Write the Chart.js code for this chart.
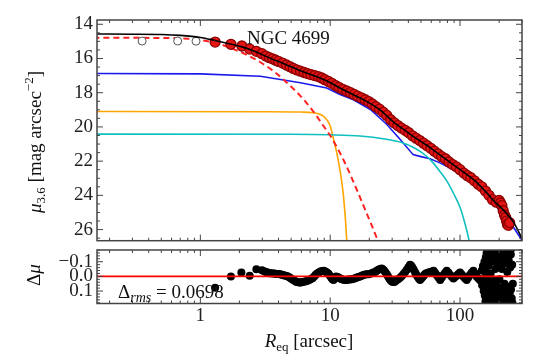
<!DOCTYPE html>
<html>
<head>
<meta charset="utf-8">
<script src="https://cdn.jsdelivr.net/npm/chart.js@4.4.1/dist/chart.umd.min.js"></script>
<style>
  html, body { margin: 0; padding: 0; background: #fff; }
  #wrap { position: relative; width: 538px; height: 362px; }
  #main { position: absolute; left: 0; top: 0; }
  #resid { position: absolute; left: 0; top: 246px; }
</style>
</head>
<body>
<div id="wrap">
  <canvas id="main" width="538" height="247"></canvas>
  <canvas id="resid" width="538" height="116"></canvas>
</div>
<script>
// ---- data (R in arcsec, mu in mag/arcsec^2) ----
const modelR  = [0.15, 0.3, 0.5, 0.7, 1.0, 1.3, 1.7, 2.1, 2.7, 3.3, 4.4, 5.9, 7.9, 9.7, 11.9, 15.1, 19.2, 24.3, 30.6, 38.9, 46.5, 55.4, 62.4, 79, 100, 126.6, 160, 181, 215, 257, 290, 330];
const modelMu = [14.57, 14.58, 14.6, 14.65, 14.77, 14.95, 15.15, 15.32, 15.62, 15.92, 16.31, 16.72, 17.07, 17.36, 17.72, 18.12, 18.52, 19.02, 19.7, 20.28, 20.7, 21.07, 21.36, 21.93, 22.5, 23.07, 23.84, 24.3, 24.85, 25.55, 26.3, 27.3];

const bulgeR  = [0.15, 0.5, 0.8, 1.0, 1.4, 1.8, 2.3, 2.9, 3.6, 4.4, 5.5, 6.5, 7.6, 8.8, 10.0, 11.3, 12.7, 14.3, 16.2, 18.5, 21.0, 24.0];
const bulgeMu = [14.79, 14.8, 14.84, 14.92, 15.15, 15.45, 15.8, 16.22, 16.7, 17.25, 17.95, 18.55, 19.2, 19.9, 20.5, 21.2, 21.95, 22.8, 23.75, 24.8, 25.8, 26.9];

const diskR  = [0.15, 1, 2.9, 5.9, 9.4, 11.9, 15.1, 20.4, 27.2, 34.5, 43.5, 49, 58.7, 70, 89, 100, 126, 160, 200, 257, 330];
const diskMu = [16.88, 16.9, 17.04, 17.42, 17.72, 18.1, 18.41, 18.98, 19.84, 20.72, 21.62, 21.72, 21.86, 22.1, 22.5, 22.68, 23.2, 23.95, 24.85, 25.85, 27.1];

const barR  = [0.15, 3, 6, 7.4, 8.2, 8.9, 9.5, 10.0, 10.6, 11.3, 12.0, 12.6, 13.1, 13.5];
const barMu = [19.1, 19.11, 19.13, 19.17, 19.25, 19.38, 19.62, 19.95, 20.7, 21.6, 22.7, 23.9, 25.4, 27.0];

const lensR  = [0.15, 5, 10, 17, 27, 35, 45, 55, 62, 70, 79, 90, 100, 110, 117.6, 122];
const lensMu = [20.42, 20.43, 20.46, 20.53, 20.72, 20.9, 21.25, 21.7, 22.1, 22.6, 23.15, 23.95, 24.7, 25.75, 26.65, 27.2];

const maskedR  = [0.356, 0.669, 0.926];
const maskedMu = [14.98, 14.98, 14.99];

const obsR  = [1.30, 1.72, 2.09, 2.40, 2.70, 2.98, 3.2, 3.4, 3.6, 3.8, 4.0, 4.3, 4.6, 4.9, 5.2, 5.5, 5.9, 6.3, 6.7, 7.1, 7.6, 8.1, 8.6, 9.1, 9.7, 10.3, 11.0, 11.7, 12.5, 13.4, 14.3, 15.3, 16.3, 17.4, 18.6, 19.8, 21.1, 22.5, 24.0, 25.6, 27.3, 29.2, 31.1, 33.2, 35.4, 37.8, 40.3, 43.0, 45.9, 49.0, 52.3, 55.8, 59.5, 63.5, 67.8, 72.3, 77.1, 82.3, 87.8, 93.7, 100, 107, 114, 121, 129, 138, 147, 157, 167, 178, 190, 200, 205, 210, 215, 220, 225, 228, 232, 236, 241];
const obsMu = [15.04, 15.17, 15.27, 15.45, 15.58, 15.72, 15.86, 15.95, 16.02, 16.1, 16.17, 16.27, 16.38, 16.48, 16.58, 16.66, 16.74, 16.82, 16.88, 16.94, 17.0, 17.06, 17.14, 17.24, 17.34, 17.45, 17.58, 17.69, 17.8, 17.9, 17.99, 18.1, 18.2, 18.3, 18.41, 18.52, 18.66, 18.82, 18.96, 19.14, 19.33, 19.58, 19.76, 19.92, 20.07, 20.2, 20.34, 20.52, 20.66, 20.8, 20.95, 21.1, 21.25, 21.42, 21.58, 21.74, 21.86, 22.05, 22.2, 22.33, 22.5, 22.7, 22.85, 22.97, 23.15, 23.35, 23.5, 23.75, 24.0, 24.25, 24.4, 24.3, 24.45, 24.6, 24.9, 25.15, 25.3, 25.5, 25.7, 25.75, 25.6];

const residR = [1.30, 1.72, 2.07, 2.40, 2.70, 2.98,
  3.1, 3.2, 3.3, 3.4, 3.5, 3.6, 3.7, 3.8, 3.9, 4.0, 4.1, 4.2, 4.3, 4.4, 4.5, 4.65, 4.8, 4.9, 5.05, 5.2, 5.35, 5.5, 5.65, 5.8, 5.95,
  6.1, 6.3, 6.5, 6.7, 6.9, 7.1, 7.3, 7.5, 7.7, 7.9, 8.1, 8.3, 8.5, 8.7, 8.9, 9.1, 9.3, 9.5, 9.7, 9.95,
  10.2, 10.4, 10.6, 10.85, 11.1, 11.35, 11.6, 11.95, 12.3, 12.65, 13.0, 13.4, 13.8, 14.2, 14.7, 15.1, 15.6, 16.0, 16.5, 17.0,
  17.5, 18.0, 18.6, 19.1, 19.7, 20.3, 20.9, 21.5, 22.2, 22.8, 23.5, 24.2, 24.9, 25.4, 26.0, 26.6, 27.3, 27.9, 28.5, 29.1,
  29.8, 30.5, 31.2, 31.9, 32.6, 33.5, 34.5, 35.6, 36.7, 37.8, 38.9, 40.0, 41.2, 42.1, 43.0, 44.0, 45.1, 46.0, 47.0, 48.1,
  49.2, 50.3, 51.5, 52.6, 53.8, 55.1, 56.5, 58.0, 59.5, 61.0, 62.5, 64.2, 66.0, 68.1, 70.3, 72.4, 74.5, 76.7, 79, 81.5,
  84, 86.4, 88.9, 91.4, 94, 97, 100, 103, 106, 109, 112.5, 115.7, 119, 122.7, 126.6, 130.3, 134, 138, 142,
  145, 147, 148, 150, 151, 152, 154, 155, 156, 157, 158, 159, 160, 161, 162, 163, 164, 165, 166, 167, 168, 170, 171, 172, 174, 175,
  176, 178, 179, 180, 182, 183, 184, 186, 187, 189, 190, 192, 193, 195, 196, 198, 199, 201, 202, 204, 205, 207, 208, 210,
  211, 213, 214, 216, 217, 219, 220, 222, 223, 225, 226, 228, 229, 231, 232, 234, 235, 237, 238, 240, 241, 243, 244, 246,
  247, 249, 250, 252, 253, 255];
const residD = [0.078, 0.0, -0.027, -0.004, -0.048, -0.042,
  -0.035, -0.03, -0.026, -0.022, -0.021, -0.02, -0.019, -0.018, -0.017, -0.016, -0.014, -0.012, -0.01, -0.008, -0.005, -0.002, 0.004, 0.01, 0.018, 0.025, 0.032, 0.038, 0.04, 0.042, 0.041,
  0.038, 0.036, 0.033, 0.03, 0.025, 0.018, 0.012, 0.002, -0.01, -0.018, -0.025, -0.03, -0.035, -0.037, -0.038, -0.035, -0.03, -0.025, -0.018, -0.005,
  0.01, 0.02, 0.025, 0.012, 0.0, 0.004, 0.008, 0.014, 0.02, 0.023, 0.025, 0.024, 0.022, 0.021, 0.02, 0.016, 0.012, 0.008, 0.005, 0.0,
  -0.005, -0.009, -0.012, -0.014, -0.015, -0.018, -0.022, -0.026, -0.03, -0.038, -0.045, -0.05, -0.054, -0.048, -0.04, -0.028, -0.015, 0.0, 0.015, 0.026,
  0.035, 0.038, 0.038, 0.032, 0.025, 0.018, 0.01, -0.003, -0.017, -0.03, -0.045, -0.062, -0.079, -0.072, -0.06, -0.045, -0.027, -0.012, 0.0, 0.014,
  0.025, 0.015, 0.005, -0.006, -0.017, -0.022, -0.025, -0.028, -0.03, -0.034, -0.038, -0.025, -0.01, 0.008, 0.025, 0.008, -0.01, -0.025, -0.038, -0.024,
  -0.01, 0.003, 0.015, 0.005, -0.005, -0.016, -0.027, -0.013, 0.0, 0.012, 0.025, 0.008, -0.01, -0.024, -0.038, -0.019, 0.0, 0.012, 0.025,
  0.03, -0.04, 0.06, -0.07, 0.02, 0.1, -0.1, 0.13, -0.03, 0.17, -0.13, 0.07, -0.16, 0.2, 0.0, -0.19, 0.11, -0.07, 0.16, -0.12, 0.04, -0.17, 0.19, -0.02, 0.13, -0.2,
  0.08, -0.1, 0.18, -0.15, 0.03, 0.2, -0.19, 0.1, -0.05, 0.16, -0.13, 0.06, -0.2, 0.19, -0.08, 0.12, -0.17, 0.02, 0.2, -0.12, 0.15, -0.2, 0.08, -0.05,
  0.18, -0.15, 0.11, -0.19, 0.2, -0.09, 0.05, -0.2, 0.16, -0.13, 0.1, -0.17, 0.19, -0.03, 0.13, -0.2, 0.07, -0.11, 0.17, -0.18, 0.12, -0.06, 0.2, -0.15,
  0.09, -0.19, 0.15, -0.08, 0.18, 0.05];

const xMin = 0.16, xMax = 300;
const yTicksMain = [14, 16, 18, 20, 22, 24, 26];
const yTicksRes = [-0.1, 0, 0.1];
const xTickLabels = [1, 10, 100];

// ---- helpers ----
const pts = (xs, ys) => xs.map((x, i) => ({ x: x, y: ys[i] }));
const curve = (xs, ys, color, width, extra) => Object.assign({
  data: pts(xs, ys), showLine: true, pointRadius: 0, borderColor: color,
  borderWidth: width, fill: false, cubicInterpolationMode: 'monotone'
}, extra || {});

const SERIF = '"Liberation Serif", "DejaVu Serif", serif';
Chart.defaults.font.family = SERIF;
Chart.defaults.font.size = 19;
Chart.defaults.color = '#222';

// stop the axes from reserving room for half tick labels at the ends
const noPad = s => { s.paddingTop = 0; s.paddingBottom = 0; s.paddingLeft = 0; s.paddingRight = 0; };

function xTickMarks() {
  const out = [];
  [0.1, 1, 10, 100].forEach(d => {
    for (let k = 1; k <= 9; k++) {
      const v = k * d;
      if (v >= xMin && v <= xMax) out.push({ v: v, major: k === 1 });
    }
  });
  return out;
}
function linMarks(lo, hi, minor, majorEvery) {
  const out = [];
  const n0 = Math.ceil(lo / minor - 1e-9), n1 = Math.floor(hi / minor + 1e-9);
  for (let n = n0; n <= n1; n++) out.push({ v: n * minor, major: n % majorEvery === 0 });
  return out;
}

const frameTicks = {
  id: 'frameTicks',
  afterDatasetsDraw(chart, args, opts) {
    const { ctx, chartArea: a, scales } = chart;
    ctx.save();
    ctx.strokeStyle = '#444';
    ctx.lineWidth = 1;
    ctx.beginPath();
    xTickMarks().forEach(t => {
      const px = scales.x.getPixelForValue(t.v);
      const L = t.major ? 6 : 3;
      ctx.moveTo(px, a.top); ctx.lineTo(px, a.top + L);
      ctx.moveTo(px, a.bottom); ctx.lineTo(px, a.bottom - L);
    });
    opts.yMarks.forEach(t => {
      const py = scales.y.getPixelForValue(t.v);
      const L = t.major ? 6 : 3;
      ctx.moveTo(a.left, py); ctx.lineTo(a.left + L, py);
      ctx.moveTo(a.right, py); ctx.lineTo(a.right - L, py);
    });
    ctx.stroke();
    ctx.lineWidth = 1.5;
    ctx.strokeRect(a.left, a.top, a.right - a.left, a.bottom - a.top);
    ctx.restore();
  }
};

// parts: {t, s (size), dy, it (italic)}
function rich(ctx, parts, x, y, rot, align) {
  ctx.save();
  ctx.translate(x, y);
  ctx.rotate(rot || 0);
  ctx.fillStyle = '#111';
  ctx.textBaseline = 'alphabetic';
  const fnt = p => (p.it ? 'italic ' : '') + (p.s || 19) + 'px ' + SERIF;
  let w = 0;
  const ws = parts.map(p => { ctx.font = fnt(p); const m = ctx.measureText(p.t).width; w += m; return m; });
  let cx = align === 'left' ? 0 : -w / 2;
  parts.forEach((p, i) => { ctx.font = fnt(p); ctx.fillText(p.t, cx, p.dy || 0); cx += ws[i]; });
  ctx.restore();
}

const mainText = {
  id: 'mainText',
  afterDraw(chart) {
    const ctx = chart.ctx;
    rich(ctx, [{ t: 'NGC 4699' }], 247, 44, 0, 'left');
    rich(ctx, [
      { t: 'μ', it: true }, { t: '3.6', s: 13, dy: 4 },
      { t: ' [mag arcsec' }, { t: '−2', s: 13, dy: -8 }, { t: ']' }
    ], 41, 142, -Math.PI / 2);
  }
};

const residText = {
  id: 'residText',
  afterDraw(chart) {
    const ctx = chart.ctx;
    rich(ctx, [{ t: 'Δ' }, { t: 'μ', it: true }], 40, 29, -Math.PI / 2);
    rich(ctx, [{ t: 'Δ' }, { t: 'rms', it: true, s: 14, dy: 4 }, { t: ' = 0.0698' }], 118, 52, 0, 'left');
    rich(ctx, [{ t: 'R', it: true }, { t: 'eq', s: 13, dy: 4 }, { t: ' [arcsec]' }], 309, 101, 0);
  }
};

// ---- main profile panel ----
new Chart(document.getElementById('main'), {
  type: 'scatter',
  data: {
    datasets: [
      curve(modelR, modelMu, '#000000', 1.6),
      { data: pts(obsR, obsMu), pointRadius: 5, backgroundColor: '#e41414', borderColor: '#8b0000', borderWidth: 1.3 },
      { data: pts(maskedR, maskedMu), pointRadius: 4, backgroundColor: '#ffffff', borderColor: '#555555', borderWidth: 1 },
      curve(bulgeR, bulgeMu, '#ff2222', 2, { borderDash: [6, 4] }),
      curve(lensR, lensMu, '#10bfbf', 1.6),
      curve(barR, barMu, '#ffa500', 1.6),
      curve(diskR, diskMu, '#1a1aee', 1.6, { cubicInterpolationMode: 'default', tension: 0 })
    ]
  },
  options: {
    responsive: false,
    animation: false,
    events: [],
    layout: { padding: { left: 0, right: 16, top: 20, bottom: 1 } },
    plugins: { legend: { display: false }, tooltip: { enabled: false },
      frameTicks: { yMarks: linMarks(13.75, 26.65, 0.5, 4) } },
    scales: {
      x: { type: 'logarithmic', min: xMin, max: xMax, display: false },
      y: {
        min: 13.75, max: 26.65, reverse: true,
        afterFit: s => { s.width = 97; noPad(s); },
        afterBuildTicks: s => { s.ticks = yTicksMain.map(v => ({ value: v })); },
        grid: { display: false, drawTicks: false },
        border: { display: false },
        ticks: { padding: 4, callback: v => String(v) }
      }
    }
  },
  plugins: [frameTicks, mainText]
});

// ---- residual panel ----
new Chart(document.getElementById('resid'), {
  type: 'scatter',
  data: {
    datasets: [
      curve([xMin, xMax], [0, 0], '#ff0000', 1.6, { cubicInterpolationMode: 'default', tension: 0 }),
      { data: pts(residR, residD), pointRadius: 4, backgroundColor: '#000000', borderColor: '#000000', borderWidth: 0 }
    ]
  },
  options: {
    responsive: false,
    animation: false,
    events: [],
    layout: { padding: { left: 0, right: 16, top: 0, bottom: 0 } },
    plugins: { legend: { display: false }, tooltip: { enabled: false },
      frameTicks: { yMarks: linMarks(-0.18, 0.185, 0.02, 5) } },
    scales: {
      x: {
        type: 'logarithmic', min: xMin, max: xMax,
        afterFit: s => { s.height = 58.5; noPad(s); },
        afterBuildTicks: s => { s.ticks = xTickLabels.map(v => ({ value: v })); },
        grid: { display: false, drawTicks: false },
        border: { display: false },
        ticks: { padding: 1, autoSkip: false, maxRotation: 0, callback: v => String(v) }
      },
      y: {
        min: -0.18, max: 0.185, reverse: true,
        afterFit: s => { s.width = 97; noPad(s); },
        afterBuildTicks: s => { s.ticks = yTicksRes.map(v => ({ value: v })); },
        grid: { display: false, drawTicks: false },
        border: { display: false },
        ticks: { padding: 4, callback: v => (v < 0 ? '−' : '') + Math.abs(v).toFixed(1) }
      }
    }
  },
  plugins: [frameTicks, residText]
});
</script>
</body>
</html>
